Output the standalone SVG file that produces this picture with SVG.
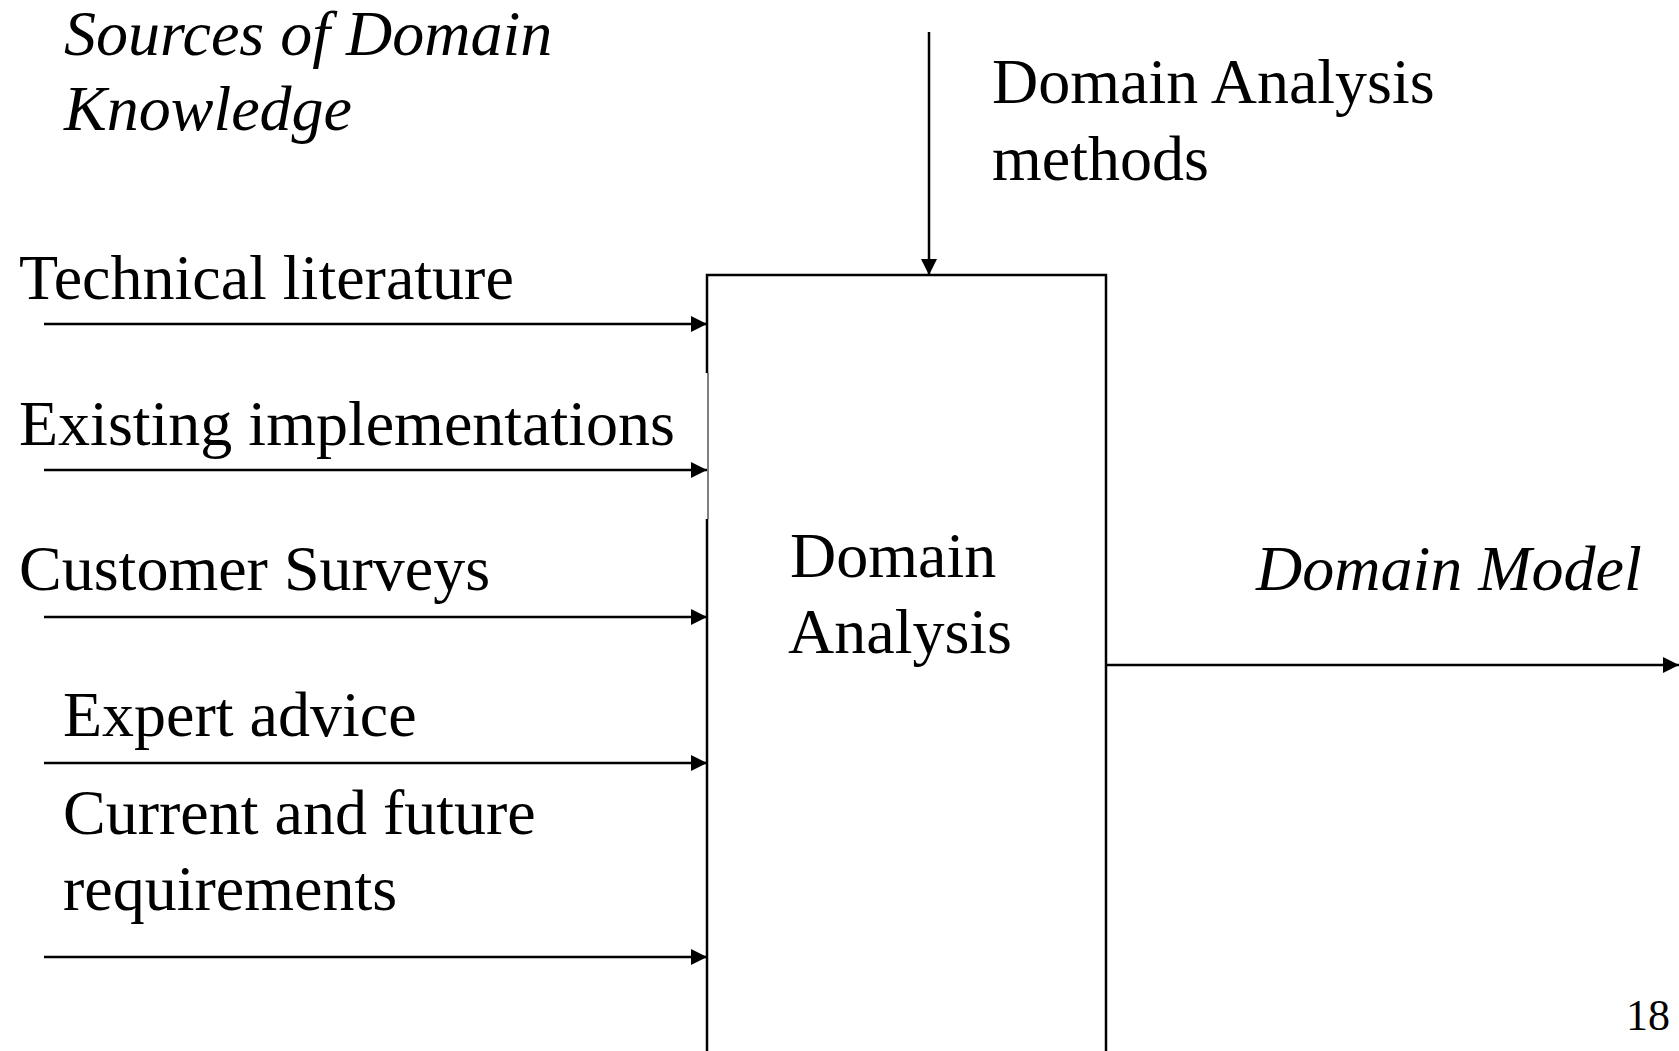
<svg xmlns="http://www.w3.org/2000/svg" width="1679" height="1051" viewBox="0 0 1679 1051">
  <style>
    text { font-family: "Liberation Serif", "Times New Roman", serif; font-size: 64px; fill: #000; }
    .it { font-style: italic; }
    .edge { stroke: #000; stroke-width: 2.5; fill: none; }
    .box { stroke: #000; stroke-width: 2.5; fill: none; }
  </style>
  <defs>
    <marker id="arrow" markerUnits="userSpaceOnUse" markerWidth="16" markerHeight="16" refX="16" refY="8" orient="auto">
      <path d="M0,0 L16,8 L0,16 z" fill="#000"/>
    </marker>
  </defs>
  <rect width="1679" height="1051" fill="#fff"/>

  <!-- headings -->
  <g id="heading-sources">
    <text class="it" x="64" y="55">Sources of Domain</text>
    <text class="it" x="64" y="130">Knowledge</text>
  </g>
  <g id="heading-methods">
    <text x="992" y="103">Domain Analysis</text>
    <text x="992" y="180">methods</text>
  </g>

  <!-- input labels -->
  <g id="input-literature"><text x="19" y="299">Technical literature</text></g>
  <g id="input-implementations"><text x="19" y="445">Existing implementations</text></g>
  <g id="input-surveys"><text x="19" y="590">Customer Surveys</text></g>
  <g id="input-expert"><text x="63" y="736">Expert advice</text></g>
  <g id="input-requirements">
    <text x="63" y="834">Current and future</text>
    <text x="63" y="910">requirements</text>
  </g>

  <!-- central process box (runs off the bottom edge) -->
  <g id="domain-analysis">
    <path class="box" d="M707,373 L707,275 L1106,275 L1106,1053"/>
    <line x1="708" y1="373" x2="708" y2="519" stroke="#000" stroke-width="1"/>
    <line class="box" x1="707" y1="519" x2="707" y2="1053"/>
    <text x="790" y="577">Domain</text>
    <text x="788" y="653">Analysis</text>
  </g>

  <!-- output label -->
  <g id="output-model"><text class="it" x="1256" y="590">Domain Model</text></g>

  <!-- page number -->
  <g id="page-number"><text x="1670" y="1030" text-anchor="end" style="font-size:44px">18</text></g>

  <!-- connectors -->
  <g id="connectors">
    <line class="edge" x1="929" y1="32" x2="929" y2="275" marker-end="url(#arrow)"/>
    <line class="edge" x1="44" y1="324" x2="707" y2="324" marker-end="url(#arrow)"/>
    <line class="edge" x1="44" y1="470" x2="707" y2="470" marker-end="url(#arrow)"/>
    <line class="edge" x1="44" y1="617" x2="707" y2="617" marker-end="url(#arrow)"/>
    <line class="edge" x1="44" y1="763" x2="707" y2="763" marker-end="url(#arrow)"/>
    <line class="edge" x1="44" y1="957" x2="707" y2="957" marker-end="url(#arrow)"/>
    <line class="edge" x1="1106" y1="665" x2="1679" y2="665" marker-end="url(#arrow)"/>
  </g>
</svg>
